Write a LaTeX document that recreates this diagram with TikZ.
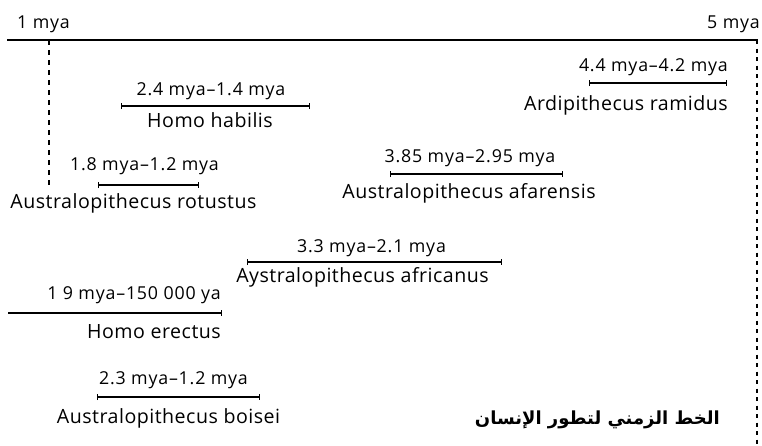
\documentclass[tikz,border=0pt]{standalone}
\usepackage{fontspec}
\setmainfont{Open Sans}
\newfontfamily\lblfont[LetterSpace=4.5]{Open Sans}
\newfontfamily\nmfont[LetterSpace=2.5]{Open Sans}
\newfontfamily\arabicfont[Script=Arabic]{DejaVu Sans}
\TeXXeTstate=1
\usetikzlibrary{arrows.meta}
\tikzset{
  lbl/.style={inner sep=0pt, font=\lblfont\fontsize{17.8}{19}\selectfont},
  nm/.style={inner sep=0pt, font=\nmfont\fontsize{19.6}{21}\selectfont},
  span/.style={line width=1.2pt, {Bar[width=6pt,line width=1.2pt]}-{Bar[width=6pt,line width=1.2pt]}},
  spanr/.style={line width=1.2pt, -{Bar[width=6pt,line width=1.2pt]}},
  axis/.style={line width=1.6pt},
  guideL/.style={line width=1.6pt, dash pattern=on 5pt off 5pt},
  guideR/.style={line width=1.6pt, dash pattern=on 4pt off 4.5pt}
}
\begin{document}
\begin{tikzpicture}[x=1pt,y=-1pt]
\useasboundingbox (0,0) rectangle (762,445);
% axis
\node[lbl] (m1) at (43.5,24) {1 mya};
\node[lbl,anchor=east] (m5) at (760,24) {5 mya};
\coordinate (axL) at (7,40);
\coordinate (axR) at (758,40);
\draw[axis] (axL) -- (axR);
\coordinate (g1t) at (49,40);
\coordinate (g1b) at (49,185);
\draw[guideL] (g1t) -- (g1b);
\coordinate (g5t) at (757,40);
\coordinate (g5b) at (757,445);
\draw[guideR] (g5t) -- (g5b);
% Homo habilis
\node[lbl] (hhd) at (211,91) {2.4 mya–1.4 mya};
\coordinate (hha) at (121,106); \coordinate (hhb) at (310,106);
\draw[span] (hha) -- (hhb);
\node[nm] (hhn) at (210,120) {Homo habilis};
% rotustus
\node[lbl] (ard) at (144.5,166) {1.8 mya–1.2 mya};
\coordinate (ara) at (98,185); \coordinate (arb) at (199,185);
\draw[span] (ara) -- (arb);
\node[nm] (arn) at (133.5,203) {Australopithecus rotustus};
% ramidus
\node[lbl,anchor=east] (ird) at (728,67) {4.4 mya–4.2 mya};
\coordinate (ira) at (589,83); \coordinate (irb) at (727,83);
\draw[span] (ira) -- (irb);
\node[nm,anchor=east] (irn) at (728,105) {Ardipithecus ramidus};
% afarensis
\node[lbl] (afd) at (470,158) {3.85 mya–2.95 mya};
\coordinate (afa) at (390,174); \coordinate (afb) at (563,174);
\draw[span] (afa) -- (afb);
\node[nm] (afn) at (469,193) {Australopithecus afarensis};
% africanus
\node[lbl] (acd) at (371.5,248) {3.3 mya–2.1 mya};
\coordinate (aca) at (247,262); \coordinate (acb) at (502,262);
\draw[span] (aca) -- (acb);
\node[nm] (acn) at (362.5,277) {Aystralopithecus africanus};
% erectus
\node[lbl,anchor=east] (hed) at (221,295) {1 9 mya–150 000 ya};
\coordinate (hea) at (8,313); \coordinate (heb) at (222,313);
\draw[spanr] (hea) -- (heb);
\node[nm,anchor=east] (hen) at (221,332) {Homo erectus};
% boisei
\node[lbl] (abd) at (173.5,380) {2.3 mya–1.2 mya};
\coordinate (aba) at (97,397); \coordinate (abb) at (260,397);
\draw[span] (aba) -- (abb);
\node[nm] (abn) at (168.5,418) {Australopithecus boisei};
% title
\node[inner sep=0pt, anchor=east, font=\arabicfont\bfseries\fontsize{18}{20}\selectfont] (title) at (720,420) {\beginR الخط الزمني لتطور الإنسان\endR};
\end{tikzpicture}
\end{document}
